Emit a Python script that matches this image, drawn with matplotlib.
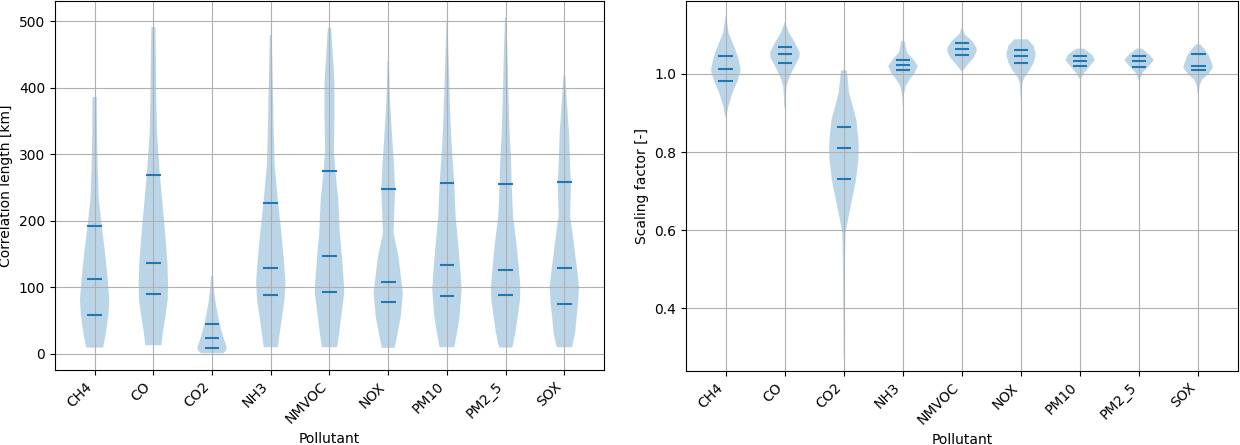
import numpy as np
import matplotlib
matplotlib.use('Agg')
import matplotlib.pyplot as plt
from matplotlib.ticker import MultipleLocator

pollutants = ['CH4', 'CO', 'CO2', 'NH3', 'NMVOC', 'NOX', 'PM10', 'PM2_5', 'SOX']

# violin outlines: value -> relative half width (1 = widest)
corr_y = [
    [9.5, 31, 59, 81, 111, 157, 193, 232, 282, 332, 386],
    [13, 31, 56, 81, 106, 136.5, 182, 232, 268, 332, 382, 433, 491],
    [1, 5, 10, 20, 30, 45, 60, 80, 100, 117],
    [10, 31, 56, 81, 106, 131, 182, 227, 282, 332, 382, 433, 479],
    [10, 31, 56, 91, 106, 148, 182, 232, 275, 307, 357, 408, 458, 490],
    [9, 31, 56, 91, 106, 146, 182, 207, 247, 282, 332, 382, 440],
    [10, 31, 56, 96, 116, 157, 207, 257, 307, 357, 408, 458, 500],
    [9.5, 31, 56, 81, 101, 126.5, 167, 207, 256, 297, 332, 400, 458, 505],
    [10, 31, 56, 75, 101, 128.5, 182, 207, 258, 282, 332, 382, 418],
]
corr_w = [
    [0.57, 0.75, 0.92, 0.98, 0.88, 0.67, 0.47, 0.28, 0.2, 0.16, 0.14],
    [0.55, 0.64, 0.82, 0.98, 1.0, 0.96, 0.8, 0.6, 0.45, 0.25, 0.2, 0.18, 0.14],
    [0.75, 0.95, 1.0, 0.85, 0.7, 0.52, 0.38, 0.22, 0.12, 0.07],
    [0.48, 0.61, 0.77, 0.93, 1.0, 0.93, 0.72, 0.5, 0.27, 0.2, 0.16, 0.11, 0.07],
    [0.52, 0.66, 0.8, 1.0, 0.98, 0.84, 0.7, 0.6, 0.4, 0.3, 0.34, 0.34, 0.2, 0.11],
    [0.44, 0.64, 0.85, 1.0, 0.92, 0.7, 0.36, 0.4, 0.47, 0.4, 0.25, 0.12, 0.05],
    [0.5, 0.68, 0.86, 1.0, 0.95, 0.8, 0.59, 0.5, 0.34, 0.23, 0.16, 0.09, 0.03],
    [0.45, 0.66, 0.82, 0.98, 1.0, 0.91, 0.73, 0.5, 0.41, 0.36, 0.27, 0.18, 0.11, 0.05],
    [0.52, 0.73, 0.84, 0.93, 1.0, 0.86, 0.55, 0.39, 0.45, 0.39, 0.32, 0.16, 0.07],
]
corr_q = [
    [58.7, 112, 192.8],
    [90.4, 136.5, 268.6],
    [8.5, 24, 45.2],
    [88.9, 128.5, 226.4],
    [92.9, 147.6, 274.6],
    [77.8, 107.4, 247],
    [86.8, 134, 257],
    [88.9, 126, 255.5],
    [75.3, 128.5, 258],
]

scale_y = [
    [0.888, 0.918, 0.952, 0.982, 1.008, 1.016, 1.038, 1.063, 1.106, 1.149],
    [0.914, 0.944, 0.969, 0.995, 1.021, 1.042, 1.055, 1.080, 1.106, 1.132],
    [0.275, 0.352, 0.438, 0.523, 0.592, 0.626, 0.678, 0.729, 0.781, 0.811, 0.832, 0.883, 0.952, 1.009],
    [0.918, 0.944, 0.969, 0.986, 1.003, 1.021, 1.038, 1.055, 1.085],
    [1.008, 1.025, 1.042, 1.059, 1.068, 1.085, 1.102, 1.119],
    [0.935, 0.978, 0.991, 1.008, 1.029, 1.050, 1.072, 1.089],
    [0.988, 1.003, 1.021, 1.036, 1.050, 1.065],
    [0.982, 1.003, 1.021, 1.036, 1.050, 1.065],
    [0.950, 0.969, 0.986, 0.999, 1.016, 1.025, 1.046, 1.063, 1.076],
]
scale_w = [
    [0.02, 0.18, 0.45, 0.8, 1.0, 0.98, 0.86, 0.64, 0.18, 0.02],
    [0.04, 0.07, 0.11, 0.34, 0.68, 0.98, 1.0, 0.68, 0.27, 0.02],
    [0.02, 0.03, 0.05, 0.07, 0.11, 0.27, 0.55, 0.82, 0.98, 1.0, 0.98, 0.84, 0.35, 0.2],
    [0.02, 0.05, 0.18, 0.45, 0.8, 1.0, 0.68, 0.27, 0.11],
    [0.05, 0.41, 0.8, 1.0, 0.98, 0.68, 0.18, 0.02],
    [0.02, 0.09, 0.23, 0.55, 0.86, 1.0, 0.86, 0.45],
    [0.05, 0.27, 0.68, 1.0, 0.8, 0.23],
    [0.02, 0.23, 0.68, 1.0, 0.68, 0.18],
    [0.05, 0.09, 0.27, 0.68, 1.0, 0.95, 0.75, 0.45, 0.14],
]
scale_q = [
    [0.983, 1.012, 1.045],
    [1.027, 1.050, 1.069],
    [0.732, 0.811, 0.865],
    [1.009, 1.023, 1.036],
    [1.049, 1.064, 1.079],
    [1.029, 1.045, 1.061],
    [1.021, 1.033, 1.045],
    [1.019, 1.033, 1.045],
    [1.009, 1.021, 1.050],
]


def make_stats(ys, ws, qs):
    out = []
    for y, w, q in zip(ys, ws, qs):
        out.append({'coords': np.array(y), 'vals': np.array(w),
                    'mean': q[1], 'median': q[1], 'min': y[0], 'max': y[-1],
                    'quantiles': np.array(q)})
    return out


pos = np.arange(1, len(pollutants) + 1)

fig = plt.figure(figsize=(12.4, 4.45), dpi=100)
ax1 = fig.add_axes([55 / 1240, 75 / 445, 549 / 1240, 369 / 445])
ax2 = fig.add_axes([686 / 1240, 74 / 445, 552 / 1240, 370 / 445])

ax1.violin(make_stats(corr_y, corr_w, corr_q), positions=pos, widths=0.5,
           showmeans=False, showextrema=False, showmedians=False)
ax1.set_ylabel('Correlation length [km]')
ax1.yaxis.set_major_locator(MultipleLocator(100))

ax2.violin(make_stats(scale_y, scale_w, scale_q), positions=pos, widths=0.5,
           showmeans=False, showextrema=False, showmedians=False)
ax2.set_ylabel('Scaling factor [-]')
ax2.yaxis.set_major_locator(MultipleLocator(0.2))
ax2.set_ylim(0.239, 1.187)

for ax in (ax1, ax2):
    ax.set_xticks(pos, pollutants, rotation=45, ha='right')
    ax.set_xlabel('Pollutant')
    ax.grid(True)

fig.savefig('out.png', dpi=100)
